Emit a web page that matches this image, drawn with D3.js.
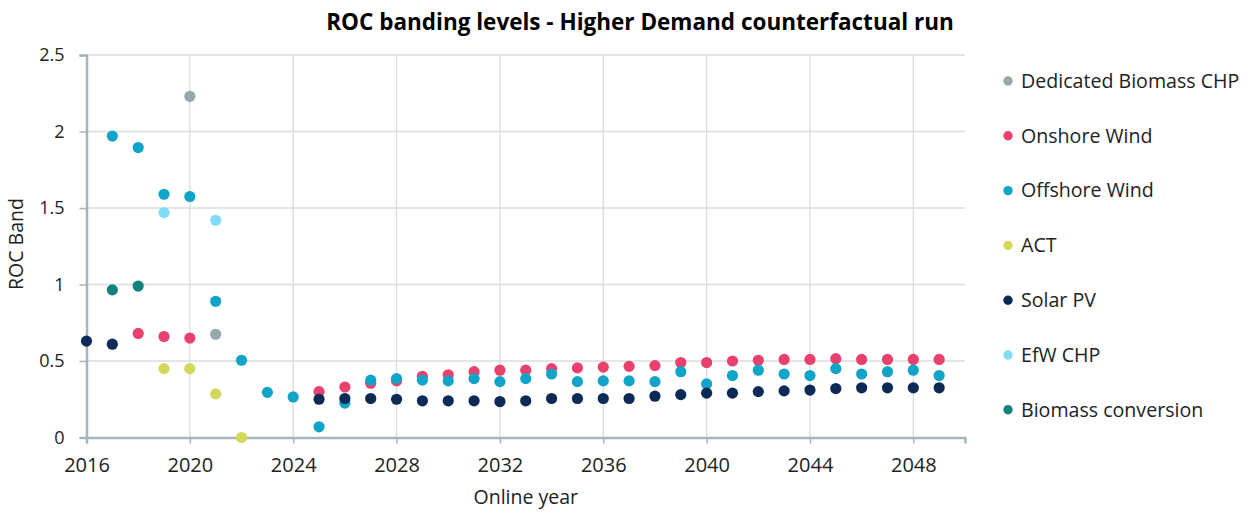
<!DOCTYPE html>
<html>
<head>
<meta charset="utf-8">
<script src="https://cdn.jsdelivr.net/npm/d3@7"></script>
<style>
  html, body { margin: 0; padding: 0; background: #ffffff; }
  svg { display: block; font-family: "Open Sans", "Noto Sans", sans-serif; }
</style>
</head>
<body>
<svg id="chart" width="1250" height="516"></svg>
<script>
// ROC band by online year, per technology
const seriesNames = ["Dedicated Biomass CHP", "Onshore Wind", "Offshore Wind", "ACT", "Solar PV", "EfW CHP", "Biomass conversion"];
const seriesColors = ["#95a8ac", "#e8416e", "#10a4c8", "#d2d85a", "#0b2a56", "#80dcf7", "#13817c"];

const dedicatedBiomassYears = [2020, 2021];
const dedicatedBiomassBand  = [2.23, 0.675];

const onshoreYears = [2018, 2019, 2020, 2025, 2026, 2027, 2028, 2029, 2030, 2031, 2032, 2033, 2034, 2035, 2036, 2037,
                      2038, 2039, 2040, 2041, 2042, 2043, 2044, 2045, 2046, 2047, 2048, 2049];
const onshoreBand  = [0.68, 0.66, 0.65, 0.30, 0.33, 0.355, 0.37, 0.40, 0.41, 0.43, 0.44, 0.44, 0.45, 0.455, 0.46, 0.465,
                      0.47, 0.49, 0.49, 0.50, 0.505, 0.51, 0.51, 0.515, 0.51, 0.51, 0.51, 0.51];

const offshoreYears = [2017, 2018, 2019, 2020, 2021, 2022, 2023, 2024, 2025, 2026, 2027, 2028, 2029, 2030, 2031, 2032, 2033,
                       2034, 2035, 2036, 2037, 2038, 2039, 2040, 2041, 2042, 2043, 2044, 2045, 2046, 2047, 2048, 2049];
const offshoreBand  = [1.97, 1.895, 1.59, 1.575, 0.89, 0.505, 0.295, 0.265, 0.07, 0.225, 0.375, 0.385, 0.375, 0.37, 0.385, 0.365, 0.385,
                       0.415, 0.365, 0.37, 0.37, 0.365, 0.43, 0.35, 0.405, 0.44, 0.415, 0.405, 0.45, 0.415, 0.43, 0.44, 0.405];

const actYears = [2019, 2020, 2021, 2022];
const actBand  = [0.45, 0.45, 0.285, 0];

const solarYears = [2016, 2017, 2025, 2026, 2027, 2028, 2029, 2030, 2031, 2032, 2033, 2034, 2035, 2036, 2037,
                    2038, 2039, 2040, 2041, 2042, 2043, 2044, 2045, 2046, 2047, 2048, 2049];
const solarBand  = [0.63, 0.61, 0.25, 0.255, 0.255, 0.25, 0.24, 0.24, 0.24, 0.235, 0.24, 0.255, 0.255, 0.255, 0.255,
                    0.27, 0.28, 0.29, 0.29, 0.30, 0.305, 0.31, 0.32, 0.325, 0.325, 0.325, 0.325];

const efwYears = [2019, 2021];
const efwBand  = [1.47, 1.42];

const biomassConvYears = [2017, 2018];
const biomassConvBand  = [0.965, 0.99];

const xTickValues = [2016, 2020, 2024, 2028, 2032, 2036, 2040, 2044, 2048];
const yTickValues = [0, 0.5, 1, 1.5, 2, 2.5];
const yTickLabels = ["0", "0.5", "1", "1.5", "2", "2.5"];

const series = [
  [dedicatedBiomassYears, dedicatedBiomassBand],
  [onshoreYears, onshoreBand],
  [offshoreYears, offshoreBand],
  [actYears, actBand],
  [solarYears, solarBand],
  [efwYears, efwBand],
  [biomassConvYears, biomassConvBand]
].map(([yrs, vals], i) => ({
  name: seriesNames[i],
  color: seriesColors[i],
  points: yrs.map((yr, j) => ({ year: yr, value: vals[j] }))
}));

const svg = d3.select("#chart");
const x = d3.scaleLinear().domain([2016, 2050]).range([86.5, 965]);
const y = d3.scaleLinear().domain([0, 2.5]).range([437.5, 55]);

const gridColor = "#d6dee2";
const axisColor = "#a4b6bd";
const textColor = "#222222";

// Gridlines
svg.append("g")
  .selectAll("line")
  .data(yTickValues.filter(v => v > 0))
  .join("line")
  .attr("x1", x(2016)).attr("x2", x(2050))
  .attr("y1", d => y(d)).attr("y2", d => y(d))
  .attr("stroke", gridColor).attr("stroke-width", 1.3);

svg.append("g")
  .selectAll("line")
  .data(xTickValues.filter(v => v > 2016))
  .join("line")
  .attr("x1", d => x(d)).attr("x2", d => x(d))
  .attr("y1", y(2.5)).attr("y2", y(0))
  .attr("stroke", gridColor).attr("stroke-width", 1.3);

// Axes
const xAxis = d3.axisBottom(x).tickValues(xTickValues).tickFormat(d3.format("d")).tickSize(6).tickPadding(14);
const gx = svg.append("g").attr("transform", `translate(0,${y(0)})`).call(xAxis);
gx.select(".domain").attr("stroke", axisColor).attr("stroke-width", 2.5);
gx.selectAll(".tick line").attr("stroke", axisColor).attr("stroke-width", 1.5);
gx.selectAll(".tick text").attr("fill", textColor).style("font-size", "20px").style("font-family", "Open Sans");

const yAxis = d3.axisLeft(y).tickValues(yTickValues).tickFormat((d, i) => yTickLabels[i]).tickSize(7).tickPadding(15);
const gy = svg.append("g").attr("transform", `translate(${x(2016)},0)`).call(yAxis);
gy.select(".domain").attr("stroke", axisColor).attr("stroke-width", 2.5);
gy.selectAll(".tick line").attr("stroke", axisColor).attr("stroke-width", 1.5);
gy.selectAll(".tick text").attr("fill", textColor).style("font-size", "18px").style("font-family", "Open Sans");

// Points
series.forEach(s => {
  svg.append("g")
    .selectAll("circle")
    .data(s.points)
    .join("circle")
    .attr("cx", d => x(d.year))
    .attr("cy", d => y(d.value))
    .attr("r", 5.6)
    .attr("fill", s.color);
});

// Title
svg.append("text")
  .attr("x", 640).attr("y", 30)
  .attr("text-anchor", "middle")
  .attr("fill", "#000")
  .style("font-size", "22.5px").style("font-weight", "bold")
  .text("ROC banding levels - Higher Demand counterfactual run");

// Axis titles
svg.append("text")
  .attr("x", (x(2016) + x(2050)) / 2).attr("y", 504)
  .attr("text-anchor", "middle")
  .attr("fill", textColor)
  .style("font-size", "19.5px")
  .text("Online year");

svg.append("text")
  .attr("transform", "translate(23,244) rotate(-90)")
  .attr("text-anchor", "middle")
  .attr("fill", textColor)
  .style("font-size", "19.5px")
  .text("ROC Band");

// Legend
const legend = svg.append("g").attr("transform", "translate(1008,81)");
const rows = legend.selectAll("g")
  .data(series)
  .join("g")
  .attr("transform", (d, i) => `translate(0,${i * 54.8})`);
rows.append("circle").attr("r", 4.7).attr("fill", d => d.color);
rows.append("text")
  .attr("x", 13).attr("dy", "0.35em")
  .attr("fill", textColor)
  .style("font-size", "19.6px")
  .text(d => d.name);
</script>
</body>
</html>
